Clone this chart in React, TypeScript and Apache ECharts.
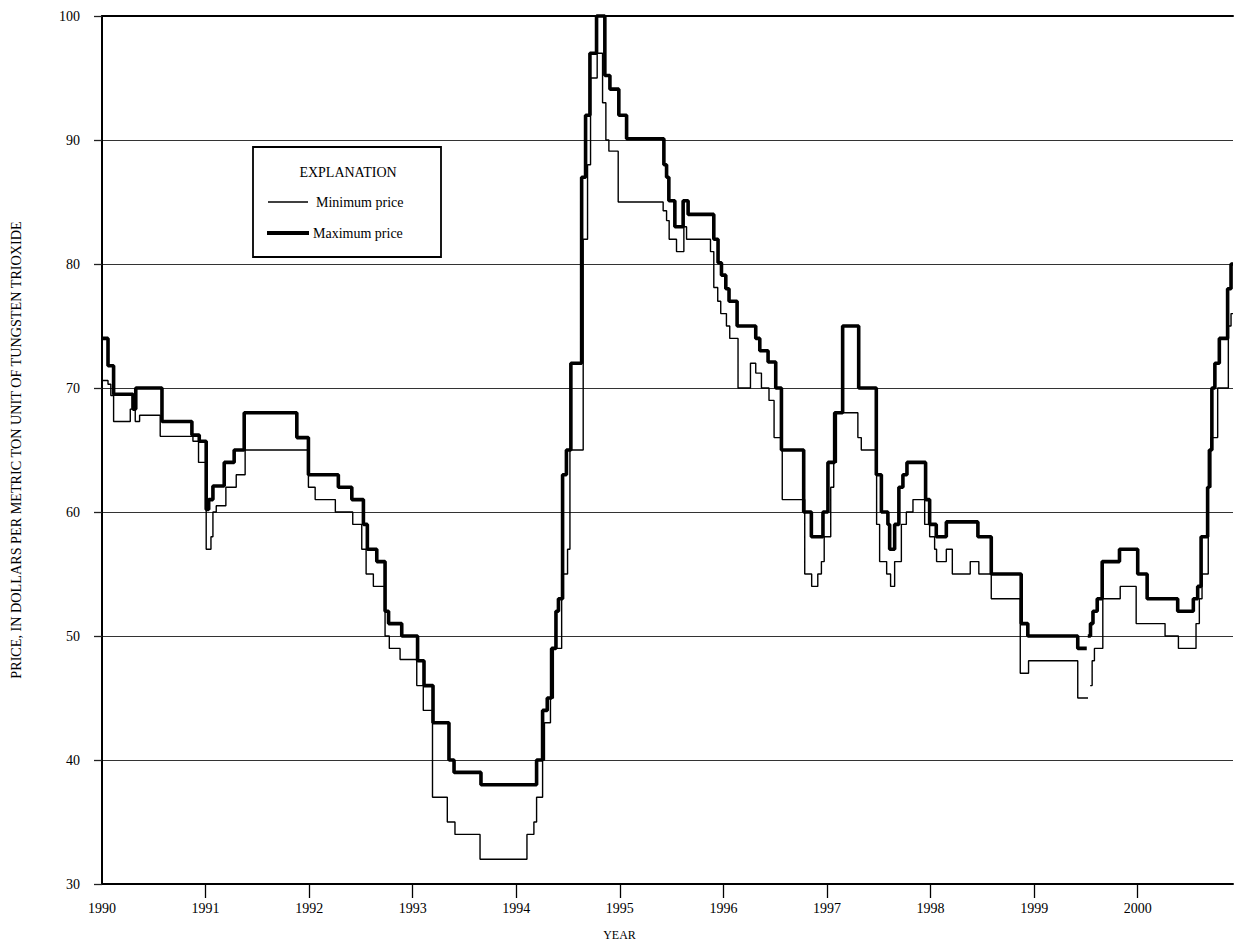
import React, { useEffect, useRef } from "react";
import * as echarts from "echarts";

const yearTicks = [1990, 1991, 1992, 1993, 1994, 1995, 1996, 1997, 1998, 1999, 2000];
const priceTicks = [30, 40, 50, 60, 70, 80, 90, 100];

const maxYears = [1990.000, 1990.058, 1990.112, 1990.299, 1990.326, 1990.579, 1990.868, 1990.939, 1991.006, 1991.030, 1991.071, 1991.180, 1991.276, 1991.373, 1991.881, 1991.993, 1992.282, 1992.412, 1992.524, 1992.562, 1992.653, 1992.733, 1992.767, 1992.894, 1993.047, 1993.109, 1993.196, 1993.350, 1993.399, 1993.659, 1994.196, 1994.254, 1994.299, 1994.341, 1994.383, 1994.407, 1994.447, 1994.484, 1994.527, 1994.631, 1994.669, 1994.711, 1994.775, 1994.855, 1994.904, 1994.990, 1995.065, 1995.425, 1995.451, 1995.473, 1995.531, 1995.611, 1995.659, 1995.907, 1995.948, 1995.981, 1996.023, 1996.054, 1996.132, 1996.312, 1996.351, 1996.431, 1996.505, 1996.560, 1996.775, 1996.849, 1996.961, 1997.009, 1997.074, 1997.151, 1997.306, 1997.476, 1997.525, 1997.588, 1997.605, 1997.653, 1997.694, 1997.733, 1997.772, 1997.952, 1997.991, 1998.055, 1998.152, 1998.457, 1998.586, 1998.875, 1998.939, 1999.421, 1999.508, 1999.512, 1999.518, 1999.544, 1999.568, 1999.609, 1999.657, 1999.824, 2000.000, 2000.091, 2000.386, 2000.537, 2000.579, 2000.612, 2000.675, 2000.692, 2000.716, 2000.745, 2000.788, 2000.868, 2000.901, 2000.920];
const maxPrices = [74.0, 71.8, 69.5, 68.3, 70.0, 67.3, 66.2, 65.7, 60.2, 61.0, 62.1, 64.0, 65.0, 68.0, 66.0, 63.0, 62.0, 61.0, 59.0, 57.0, 56.0, 52.0, 51.0, 50.0, 48.0, 46.0, 43.0, 40.0, 39.0, 38.0, 40.0, 44.0, 45.0, 49.0, 52.0, 53.0, 63.0, 65.0, 72.0, 87.0, 92.0, 97.0, 100.0, 95.2, 94.1, 92.0, 90.1, 88.0, 87.0, 85.1, 83.0, 85.1, 84.0, 82.0, 80.1, 79.1, 78.0, 77.0, 75.0, 74.0, 73.0, 72.1, 70.0, 65.0, 60.0, 58.0, 60.0, 64.0, 68.0, 75.0, 70.0, 63.0, 60.0, 59.0, 57.0, 59.0, 62.0, 63.0, 64.0, 61.0, 59.0, 58.0, 59.2, 58.0, 55.0, 51.0, 50.0, 49.0, 49.0, null, 50.0, 51.0, 52.0, 53.0, 56.0, 57.0, 55.0, 53.0, 52.0, 53.0, 54.0, 58.0, 62.0, 65.0, 70.0, 72.0, 74.0, 78.0, 80.0, 80.0];

const minYears = [1990.000, 1990.058, 1990.085, 1990.112, 1990.273, 1990.299, 1990.321, 1990.363, 1990.562, 1990.878, 1990.932, 1991.006, 1991.052, 1991.071, 1991.103, 1991.196, 1991.296, 1991.382, 1991.993, 1992.058, 1992.253, 1992.421, 1992.508, 1992.550, 1992.620, 1992.733, 1992.774, 1992.878, 1993.039, 1993.102, 1993.191, 1993.334, 1993.408, 1993.650, 1994.103, 1994.170, 1994.196, 1994.254, 1994.272, 1994.330, 1994.358, 1994.438, 1994.495, 1994.518, 1994.646, 1994.688, 1994.717, 1994.781, 1994.833, 1994.865, 1994.894, 1994.984, 1995.418, 1995.451, 1995.476, 1995.547, 1995.618, 1995.644, 1995.875, 1995.907, 1995.945, 1995.974, 1996.029, 1996.061, 1996.141, 1996.261, 1996.312, 1996.367, 1996.440, 1996.489, 1996.568, 1996.785, 1996.852, 1996.911, 1996.946, 1996.973, 1997.036, 1997.065, 1997.091, 1997.298, 1997.331, 1997.479, 1997.508, 1997.576, 1997.614, 1997.653, 1997.718, 1997.766, 1997.830, 1997.943, 1997.991, 1998.039, 1998.058, 1998.152, 1998.210, 1998.383, 1998.466, 1998.586, 1998.866, 1998.946, 1999.421, 1999.508, 1999.520, 1999.541, 1999.560, 1999.582, 1999.663, 1999.831, 1999.985, 2000.264, 2000.393, 2000.563, 2000.595, 2000.621, 2000.681, 2000.706, 2000.772, 2000.875, 2000.901, 2000.920];
const minPrices = [70.6, 70.3, 69.4, 67.3, 68.3, 69.4, 67.3, 67.8, 66.1, 65.7, 64.0, 57.0, 58.0, 60.0, 60.5, 62.0, 63.0, 65.0, 62.0, 61.0, 60.0, 59.0, 57.0, 55.0, 54.0, 50.0, 49.0, 48.1, 46.0, 44.0, 37.0, 35.0, 34.0, 32.0, 34.0, 35.0, 37.0, 40.0, 43.0, 45.0, 49.0, 55.0, 57.0, 65.0, 82.0, 88.0, 95.0, 97.0, 93.0, 90.0, 89.1, 85.0, 84.3, 83.5, 82.0, 81.0, 83.0, 82.0, 81.0, 78.1, 77.0, 76.0, 75.0, 74.0, 70.0, 72.0, 71.2, 70.0, 69.0, 66.0, 61.0, 55.0, 54.0, 55.0, 56.0, 58.0, 62.0, 64.0, 68.0, 66.0, 65.0, 59.0, 56.0, 55.0, 54.0, 56.0, 59.0, 60.0, 61.0, 59.0, 58.0, 57.0, 56.0, 57.0, 55.0, 56.0, 55.0, 53.0, 47.0, 48.0, 45.0, 45.0, null, 46.0, 48.0, 49.0, 53.0, 54.0, 51.0, 50.0, 49.0, 51.0, 53.0, 55.0, 62.0, 66.0, 70.0, 75.0, 76.0, 76.0];

const FONT = "'Liberation Serif', 'Times New Roman', serif";

export default function App() {
  const ref = useRef<HTMLDivElement>(null);
  useEffect(() => {
    const chart = echarts.init(ref.current!, null, { renderer: "svg" });
    const minData = minYears.map((x, i) => [x, minPrices[i]]);
    const maxData = maxYears.map((x, i) => [x, maxPrices[i]]);
    const xMin = 1990;
    const xMax = 2000.92;
    chart.setOption({
      animation: false,
      backgroundColor: "#ffffff",
      textStyle: { fontFamily: FONT, color: "#000" },
      grid: { left: 102, right: 1, top: 16, bottom: 59, containLabel: false, outerBoundsMode: "none" },
      xAxis: [
        {
          type: "value",
          min: xMin,
          max: xMax,
          interval: 1,
          position: "bottom",
          name: "YEAR",
          nameLocation: "middle",
          nameGap: 45,
          nameTextStyle: { fontFamily: FONT, fontSize: 12, color: "#000", padding: [0, 96, 0, 0] },
          axisLine: { show: true, onZero: false, lineStyle: { color: "#000", width: 2 } },
          axisTick: {
            show: true,
            length: 14,
            customValues: yearTicks.slice(1),
            lineStyle: { color: "#000", width: 1.3 },
          },
          axisLabel: {
            show: true,
            margin: 17,
            customValues: yearTicks,
            color: "#000",
            fontFamily: FONT,
            fontSize: 14,
            formatter: (v: number) => (Number.isInteger(v) ? String(v) : ""),
          },
          splitLine: { show: false },
        },
        {
          type: "value",
          min: xMin,
          max: xMax,
          position: "top",
          axisLine: { show: true, onZero: false, lineStyle: { color: "#000", width: 2 } },
          axisTick: { show: false },
          axisLabel: { show: false },
          splitLine: { show: false },
        },
      ],
      yAxis: {
        type: "value",
        min: 30,
        max: 100,
        interval: 10,
        name: "PRICE, IN DOLLARS PER METRIC TON UNIT OF TUNGSTEN TRIOXIDE",
        nameLocation: "middle",
        nameGap: 79,
        nameTextStyle: { fontFamily: FONT, fontSize: 14.2, color: "#000" },
        axisLine: { show: true, onZero: false, lineStyle: { color: "#000", width: 2 } },
        axisTick: { show: true, length: 8, customValues: priceTicks, lineStyle: { color: "#222", width: 1.3 } },
        axisLabel: {
          show: true,
          margin: 22,
          color: "#000",
          fontFamily: FONT,
          fontSize: 14,
          customValues: priceTicks,
        },
        splitLine: { show: true, lineStyle: { color: "#333", width: 1.2 } },
      },
      series: [
        {
          type: "line",
          name: "Minimum price",
          step: "end",
          data: minData,
          symbol: "none",
          showSymbol: false,
          connectNulls: false,
          clip: false,
          lineStyle: { color: "#000", width: 1.4 },
          emphasis: { disabled: true },
          z: 3,
        },
        {
          type: "line",
          name: "Maximum price",
          step: "end",
          data: maxData,
          symbol: "none",
          showSymbol: false,
          connectNulls: false,
          clip: false,
          lineStyle: { color: "#000", width: 3.6 },
          emphasis: { disabled: true },
          z: 4,
        },
      ],
      graphic: [
        {
          type: "rect",
          shape: { x: 253, y: 147, width: 188, height: 110 },
          style: { fill: "#fff", stroke: "#000", lineWidth: 1.8 },
          z: 10,
        },
        {
          type: "text",
          x: 348,
          y: 172,
          style: { text: "EXPLANATION", font: `14px ${FONT}`, fill: "#000", textAlign: "center", textVerticalAlign: "middle" },
          z: 11,
        },
        {
          type: "line",
          shape: { x1: 268, y1: 202, x2: 308, y2: 202 },
          style: { stroke: "#000", lineWidth: 1.5 },
          z: 11,
        },
        {
          type: "text",
          x: 316,
          y: 202,
          style: { text: "Minimum price", font: `14px ${FONT}`, fill: "#000", textAlign: "left", textVerticalAlign: "middle" },
          z: 11,
        },
        {
          type: "line",
          shape: { x1: 267, y1: 233, x2: 309, y2: 233 },
          style: { stroke: "#000", lineWidth: 4 },
          z: 11,
        },
        {
          type: "text",
          x: 313,
          y: 233,
          style: { text: "Maximum price", font: `14px ${FONT}`, fill: "#000", textAlign: "left", textVerticalAlign: "middle" },
          z: 11,
        },
      ],
    });
    return () => chart.dispose();
  }, []);
  return <div ref={ref} style={{ position: "absolute", left: 0, top: 0, width: 1234, height: 943 }} />;
}
